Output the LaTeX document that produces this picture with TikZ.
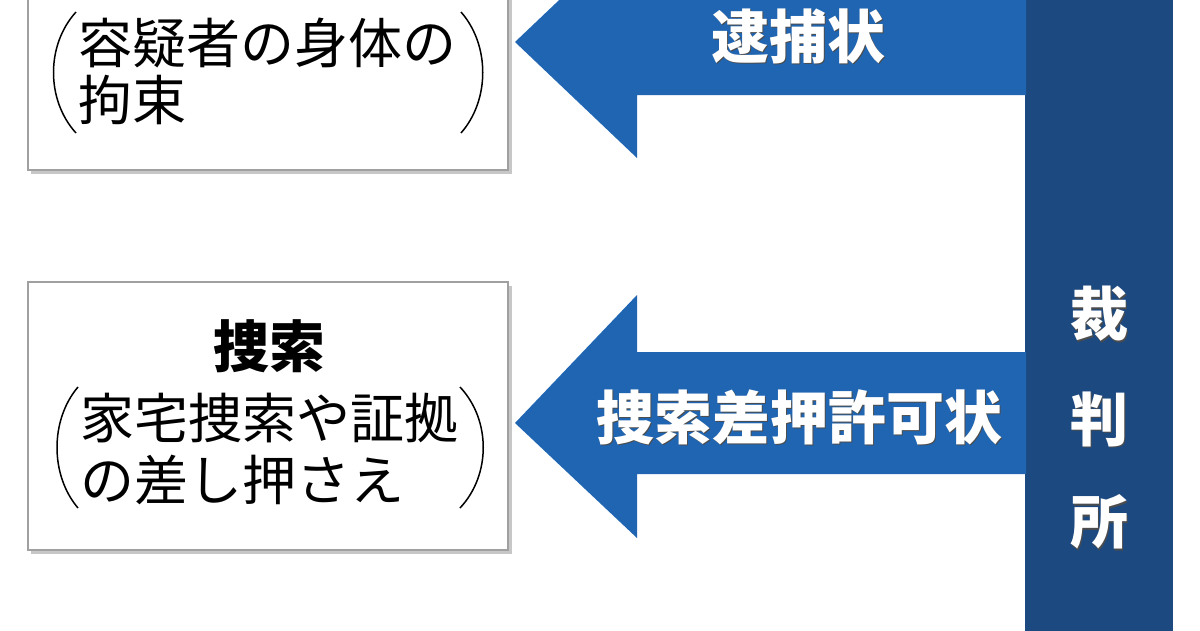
\documentclass[tikz,border=0pt]{standalone}
\usepackage{fontspec}
\newfontfamily\jp{Noto Sans CJK JP}
\usetikzlibrary{shadows.blur}
\definecolor{arrowblue}{RGB}{31,101,178}
\definecolor{barnavy}{RGB}{28,73,128}
\definecolor{boxedge}{RGB}{160,160,160}
\tikzset{
  infobox/.style={fill=white, draw=boxedge, line width=1.6pt},
  boxshadow/.style={fill=black!22},
  arrowshape/.style={fill=arrowblue},
  barshape/.style={fill=barnavy},
  paren/.style={draw=black, line width=1.5pt},
  plaintext/.style={inner sep=0pt, font=\jp\fontsize{54}{57}\selectfont, text=black},
  headtext/.style={inner sep=0pt, font=\jp\bfseries\fontsize{56}{60}\selectfont, text=black},
  whitetext/.style={inner sep=0pt, font=\jp\bfseries\fontsize{58}{60}\selectfont, text=white},
  shadowtext/.style={inner sep=0pt, font=\jp\bfseries\fontsize{58}{60}\selectfont, text=black!70},
}
\begin{document}
\begin{tikzpicture}[x=1pt,y=-1pt]
\useasboundingbox (0,0) rectangle (1200,630);
\clip (0,0) rectangle (1200,630);
\fill[white] (0,0) rectangle (1200,630);

% court bar
\path[barshape] (1025,-5) rectangle (1173,635);

% arrows
\path[arrowshape] (1026,-26) -- (637,-26) -- (637,-74) -- (515,42) -- (637,158) -- (637,95) -- (1026,95) -- cycle;
\path[arrowshape] (1026,352) -- (637,352) -- (637,295) -- (515,423) -- (637,538) -- (637,474) -- (1026,474) -- cycle;

% boxes
\path[boxshadow] (31,-10) rectangle (512,174);
\path[infobox] (28,-14) rectangle (508,170);
\path[boxshadow] (31,286) rectangle (512,554);
\path[infobox] (28,282) rectangle (508,550);

% parentheses, top box
\path[paren] (76,12) .. controls (46,45) and (46,100) .. (76,133);
\path[paren] (461,12) .. controls (490,45) and (490,100) .. (461,133);
% parentheses, bottom box
\path[paren] (78,387) .. controls (50,420) and (50,475) .. (78,508);
\path[paren] (460,387) .. controls (491,420) and (491,475) .. (460,508);

% box texts
\node[plaintext, anchor=west] (t1) at (78,43) {容疑者の身体の};
\node[plaintext, anchor=west] (t2) at (78,100) {拘束};
\node[headtext] (h2) at (269,346) {捜索};
\node[plaintext, anchor=west] (t3) at (80,418) {家宅捜索や証拠};
\node[plaintext, anchor=west] (t4) at (80,480) {の差し押さえ};

% arrow labels
\node[shadowtext] at (799.5,37.5) {逮捕状};
\node[whitetext] (a1) at (798,36) {逮捕状};
\node[shadowtext] at (800.5,418.5) {捜索差押許可状};
\node[whitetext] (a2) at (799,417) {捜索差押許可状};

% court label
\foreach \c/\yy/\n in {裁/314/c1, 判/419/c2, 所/522/c3}{
  \node[shadowtext] at (1100.5,\yy+1.5) {\c};
  \node[whitetext] (\n) at (1099,\yy) {\c};
}
\end{tikzpicture}
\end{document}
